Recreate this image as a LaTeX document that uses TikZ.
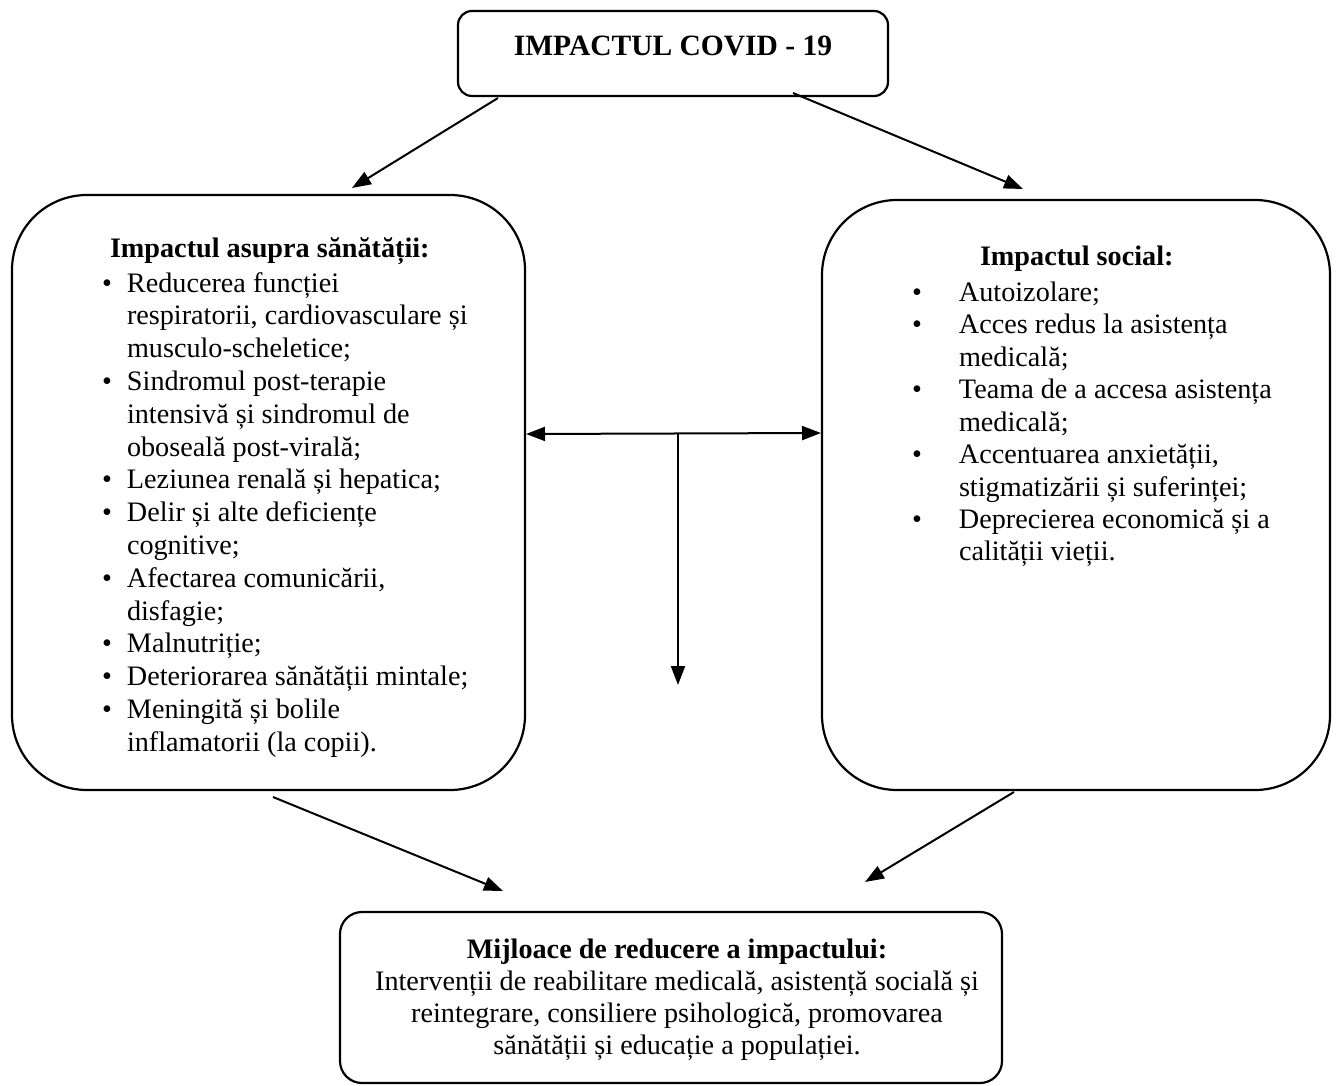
\documentclass[tikz,border=0pt]{standalone}
\usepackage{fontspec}
\setmainfont{Liberation Serif}
\usetikzlibrary{arrows.meta}
\begin{document}
\begin{tikzpicture}[x=1pt,y=-1pt,
  box/.style={draw=black, line width=2.2pt, inner sep=0pt},
  txt/.style={inner sep=0pt, outer sep=0pt, font=\fontsize{28.2}{32.8}\selectfont},
  bold/.style={inner sep=0pt, outer sep=0pt, font=\fontsize{28.2}{32.8}\selectfont\bfseries},
  arr/.style={line width=2pt, -{Triangle[length=19pt,width=14pt]}},
  darr/.style={line width=2pt, {Triangle[length=19pt,width=14pt]}-{Triangle[length=19pt,width=14pt]}},
  ]
\useasboundingbox (0,0) rectangle (1341,1086);
% boxes
\node[box, rounded corners=14pt, minimum width=430pt, minimum height=85pt] (top) at (673,53.5) {};
\node[box, rounded corners=75pt, minimum width=513pt, minimum height=595pt] (lbox) at (268.5,492.5) {};
\node[box, rounded corners=75pt, minimum width=508pt, minimum height=590pt] (rbox) at (1076,495) {};
\node[box, rounded corners=22pt, minimum width=662pt, minimum height=171pt] (bbox) at (671,997.5) {};
% texts
\node[bold, font=\fontsize{29.5}{34}\selectfont\bfseries, anchor=base] (title) at (673,56) {IMPACTUL COVID - 19};
\node[bold, anchor=base west] (lhead) at (110,258) {Impactul asupra sănătății:};
\node[txt, anchor=base west] (llist) at (102,292) {\begin{tabular}[t]{@{}p{25pt}@{}l@{}}
• & Reducerea funcției\\
  & respiratorii, cardiovasculare și\\
  & musculo-scheletice;\\
• & Sindromul post-terapie\\
  & intensivă și sindromul de\\
  & oboseală post-virală;\\
• & Leziunea renală și hepatica;\\
• & Delir și alte deficiențe\\
  & cognitive;\\
• & Afectarea comunicării,\\
  & disfagie;\\
• & Malnutriție;\\
• & Deteriorarea sănătății mintale;\\
• & Meningită și bolile\\
  & inflamatorii (la copii).
\end{tabular}};
\node[bold, anchor=base west] (rhead) at (980,265) {Impactul social:};
\node[txt, font=\fontsize{28.2}{32.5}\selectfont, anchor=base west] (rlist) at (912,301) {\begin{tabular}[t]{@{}p{47pt}@{}l@{}}
• & Autoizolare;\\
• & Acces redus la asistența\\
  & medicală;\\
• & Teama de a accesa asistența\\
  & medicală;\\
• & Accentuarea anxietății,\\
  & stigmatizării și suferinței;\\
• & Deprecierea economică și a\\
  & calității vieții.
\end{tabular}};
\node[txt, font=\fontsize{28.2}{32}\selectfont, anchor=base] (btext) at (677,958) {\begin{tabular}[t]{@{}c@{}}
\textbf{Mijloace de reducere a impactului:}\\
Intervenții de reabilitare medicală, asistență socială și\\
reintegrare, consiliere psihologică, promovarea\\
sănătății și educație a populației.
\end{tabular}};
% connector ends
\coordinate (t1) at (498,98);
\coordinate (t1e) at (352,188);
\coordinate (t2) at (793,93);
\coordinate (t2e) at (1023,189);
\coordinate (h1) at (526,434);
\coordinate (h2) at (821,433);
\coordinate (hm) at (678,434);
\coordinate (vd) at (678,685);
\coordinate (l1) at (273,797);
\coordinate (l1e) at (503,891);
\coordinate (r1) at (1014,792);
\coordinate (r1e) at (865,882);
% connectors
\draw[arr] (t1) -- (t1e);
\draw[arr] (t2) -- (t2e);
\draw[darr] (h1) -- (h2);
\draw[arr] (hm) -- (vd);
\draw[arr] (l1) -- (l1e);
\draw[arr] (r1) -- (r1e);
\end{tikzpicture}
\end{document}
